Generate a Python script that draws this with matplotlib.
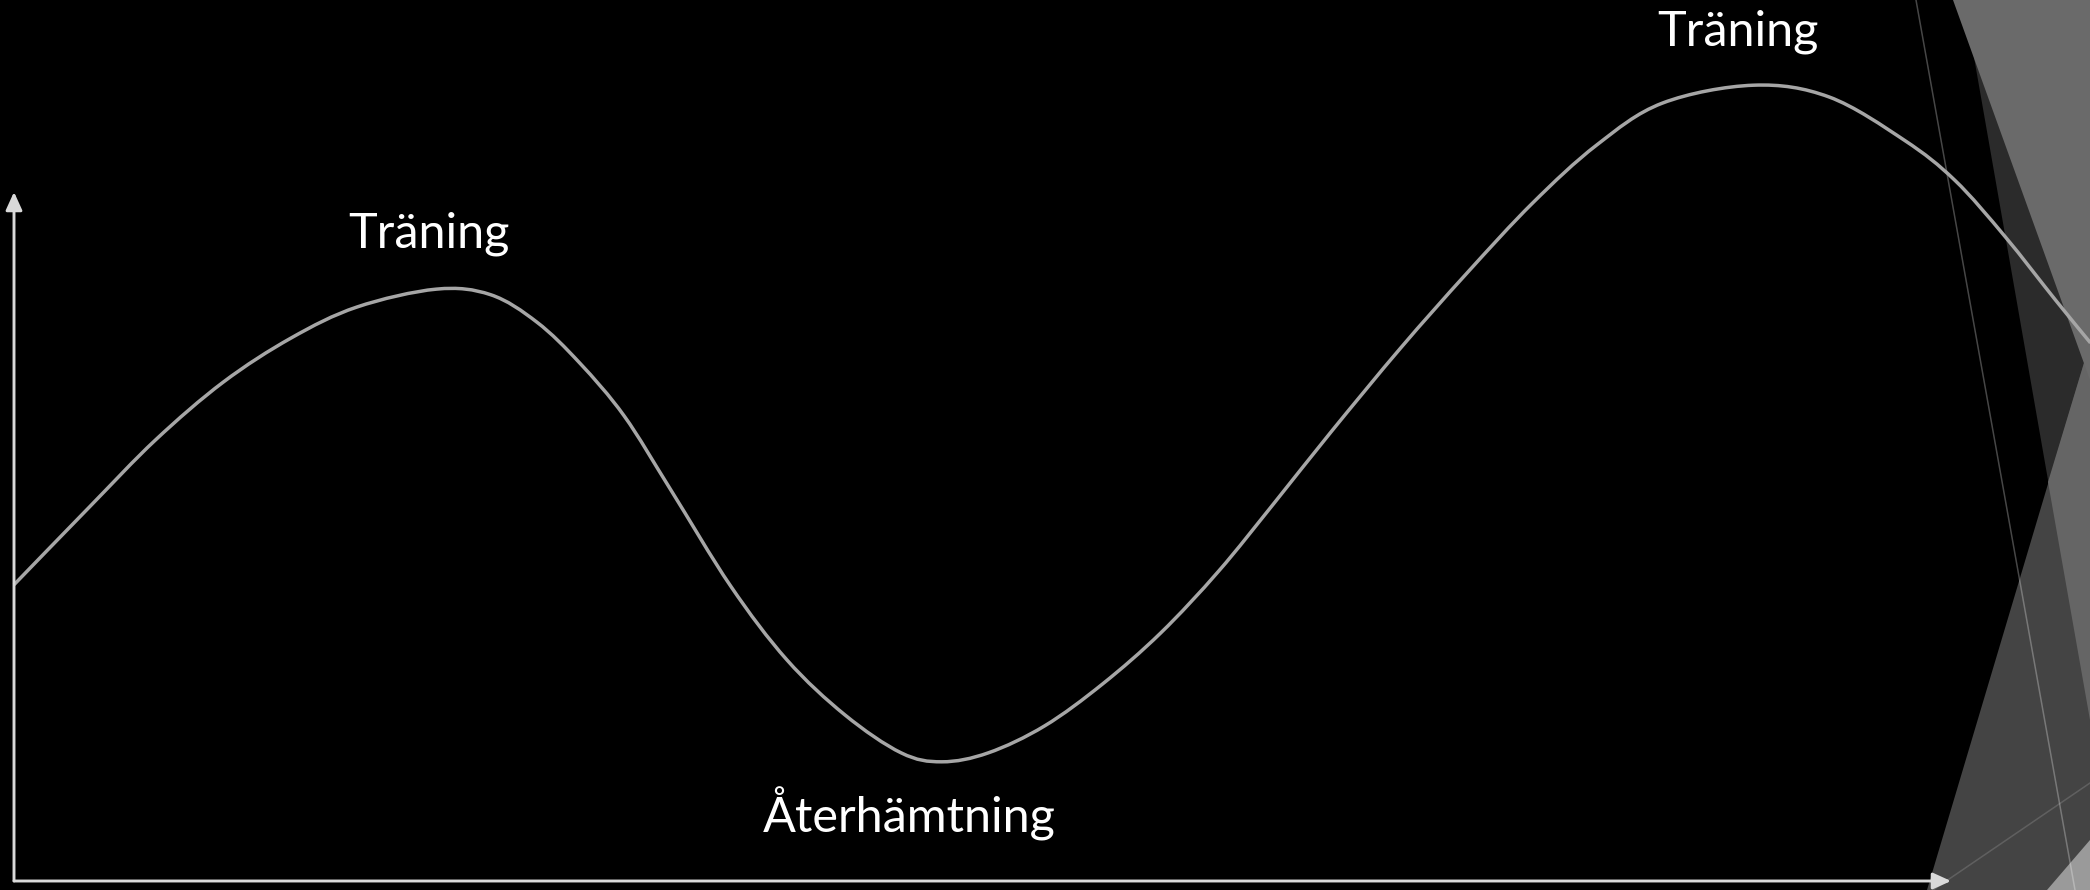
import matplotlib
matplotlib.use('Agg')
import matplotlib.pyplot as plt
from matplotlib.patches import Polygon, PathPatch
from matplotlib.path import Path

plt.rcParams['font.family'] = ['Lato', 'DejaVu Sans']

# curve: time (0 = y axis, 100 = arrow tip), level (0 = x axis, 100 = arrow tip)
time = [0.0, 3.9, 7.3, 10.8, 14.3, 17.7, 21.8, 24.6, 27.0, 29.2, 31.5, 33.9,
        37.0, 39.9, 42.9, 45.8, 47.9, 50.3, 53.2, 56.2, 59.2, 62.2, 65.1, 68.0,
        71.6, 75.0, 78.4, 81.7, 85.1, 89.8, 93.7, 97.6, 100.2, 102.8, 105.4, 107.2]
level = [43.0, 54.3, 64.0, 72.4, 78.8, 83.3, 85.9, 85.1, 81.1, 75.2, 67.5, 56.8,
         42.8, 32.1, 24.1, 18.6, 17.3, 18.6, 22.5, 28.6, 36.0, 45.0, 55.0, 65.2,
         77.4, 88.2, 98.4, 106.8, 112.9, 115.5, 113.8, 107.5, 101.7, 93.5, 84.3, 78.1]

labels = ['Träning', 'Återhämtning', 'Träning']
label_x = [21.4, 46.2, 89.0]
label_y = [91.9, 7.0, 121.3]

# slide decoration on the right (pixel space of the 2090x890 picture)
W, H = 2090, 890
deco = [
    ([(1964, 0), (2090, 0), (2090, 720)], '#2b2b2b'),
    ([(1927, 890), (2090, 343), (2090, 890)], '#444444'),
    ([(2048, 482), (2090, 343), (2090, 720)], '#656565'),
    ([(1953, 0), (2090, 0), (2090, 380)], '#6a6a6a'),
    ([(2047, 890), (2090, 840), (2090, 890)], '#9a9a9a'),
]


def smooth_path(xs, ys):
    # curve through every read point (Catmull-Rom drawn as cubic Bezier pieces)
    pts = list(zip(xs, ys))
    ext = [pts[0]] + pts + [pts[-1]]
    verts = [pts[0]]
    codes = [Path.MOVETO]
    for i in range(1, len(ext) - 2):
        p0, p1, p2, p3 = ext[i - 1], ext[i], ext[i + 1], ext[i + 2]
        c1 = (p1[0] + (p2[0] - p0[0]) / 6, p1[1] + (p2[1] - p0[1]) / 6)
        c2 = (p2[0] - (p3[0] - p1[0]) / 6, p2[1] - (p3[1] - p1[1]) / 6)
        verts += [c1, c2, p2]
        codes += [Path.CURVE4] * 3
    return Path(verts, codes)


fig = plt.figure(figsize=(20.9, 8.9), dpi=100, facecolor='black')

bg = fig.add_axes([0, 0, 1, 1])
bg.set_xlim(0, W)
bg.set_ylim(H, 0)
bg.axis('off')
for pts, c in deco:
    bg.add_patch(Polygon(pts, closed=True, facecolor=c, edgecolor='none'))
bg.plot([1916, 2075], [0, 890], color='white', alpha=0.28, lw=1.1)
bg.plot([1933, 2090], [890, 783], color='white', alpha=0.15, lw=1.1)

ax = fig.add_axes([14 / W, 9 / H, 1937 / W, 689 / H])
ax.set_xlim(0, 100)
ax.set_ylim(0, 100)
ax.axis('off')
ax.patch.set_alpha(0)

ax.add_patch(PathPatch(smooth_path(time, level), facecolor='none', edgecolor='#a6a6a6',
                       lw=2.5, clip_on=False, zorder=3))

arrow = dict(arrowstyle='-|>,head_length=1.1,head_width=0.5', color='#d9d9d9',
             lw=2.1, shrinkA=0, shrinkB=0, mutation_scale=10)
ax.annotate('', xy=(100, 0), xytext=(0, 0), arrowprops=arrow, annotation_clip=False)
ax.annotate('', xy=(0, 100), xytext=(0, 0), arrowprops=arrow, annotation_clip=False)

for t, lx, ly in zip(labels, label_x, label_y):
    ax.text(lx, ly, t, fontsize=35, color='white', ha='center', va='baseline', clip_on=False)

fig.savefig('out.png', dpi=100, facecolor='black')
